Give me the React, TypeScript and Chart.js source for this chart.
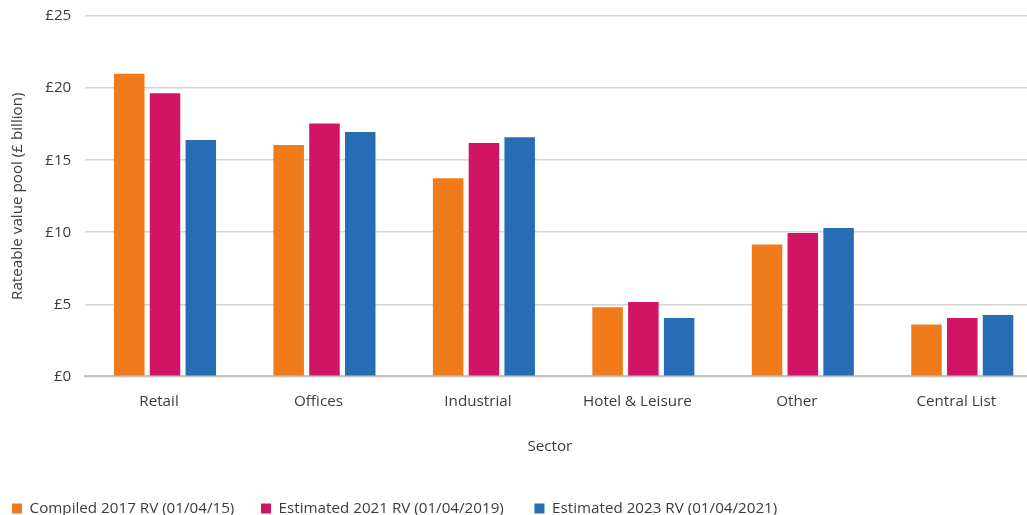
import React, { useEffect, useRef } from "react";
import { Chart, registerables } from "chart.js";

Chart.register(...registerables);

const categories = ["Retail", "Offices", "Industrial", "Hotel & Leisure", "Other", "Central List"];
const compiled2017 = [21.0, 16.05, 13.75, 4.8, 9.15, 3.6];
const estimated2021 = [19.65, 17.55, 16.2, 5.15, 9.95, 4.05];
const estimated2023 = [16.4, 16.95, 16.6, 4.05, 10.3, 4.25];
const seriesLabels = [
  "Compiled 2017 RV (01/04/15)",
  "Estimated 2021 RV (01/04/2019)",
  "Estimated 2023 RV (01/04/2021)",
];
const colors = ["#EF7B1B", "#D11463", "#276DB4"];
const yTicks = [0, 5, 10, 15, 20, 25];

export default function App() {
  const ref = useRef<HTMLCanvasElement>(null);
  useEffect(() => {
    document.body.style.margin = "0";
    document.body.style.overflow = "hidden";
    const family = "'Open Sans', 'Noto Sans', sans-serif";
    Chart.defaults.font.family = family;
    const f = { size: 15.2, family };
    const txt = "#3c3c3c";
    const chart = new Chart(ref.current!, {
      type: "bar",
      data: {
        labels: categories,
        datasets: [compiled2017, estimated2021, estimated2023].map((d, i) => ({
          label: seriesLabels[i],
          data: d,
          backgroundColor: colors[i],
          borderWidth: 0,
          categoryPercentage: 0.673,
          barPercentage: 0.853,
        })),
      },
      options: {
        animation: false,
        responsive: false,
        maintainAspectRatio: false,
        layout: { padding: { top: 0, right: 0, left: 9, bottom: 0 } },
        plugins: {
          tooltip: { enabled: false },
          legend: {
            position: "bottom",
            align: "start",
            labels: {
              boxWidth: 10,
              boxHeight: 10,
              padding: 3,
              color: txt,
              font: f,
              generateLabels: (ch: any) =>
                Chart.defaults.plugins.legend.labels
                  .generateLabels(ch)
                  .map((l: any, i: number) => ({ ...l, text: l.text + (i === 0 ? "      " : "       ") })),
            },
          },
        },
        scales: {
          x: {
            grid: { display: false },
            border: { color: "#c4c4c4", width: 2 },
            ticks: { color: txt, font: f, padding: 8, labelOffset: -6 },
            title: {
              display: true,
              text: "Sector       ",
              color: txt,
              font: f,
              padding: { top: 19, bottom: 42 },
            },
          },
          y: {
            min: 0,
            max: 25,
            afterBuildTicks: (axis: any) => {
              axis.ticks = yTicks.map((v) => ({ value: v }));
            },
            grid: { color: "#d4d4d4", drawTicks: false, lineWidth: 1.5 },
            border: { display: false },
            ticks: {
              color: txt,
              font: f,
              padding: 14,
              callback: (v: any) => "£" + v,
            },
            title: {
              display: true,
              text: "Rateable value pool (£ billion)",
              color: txt,
              font: f,
              padding: { top: 0, bottom: 4 },
            },
          },
        },
      },
    });
    return () => chart.destroy();
  }, []);
  return (
    <canvas
      ref={ref}
      width={1042}
      height={533}
      style={{ display: "block", marginTop: "-7px" }}
    />
  );
}
